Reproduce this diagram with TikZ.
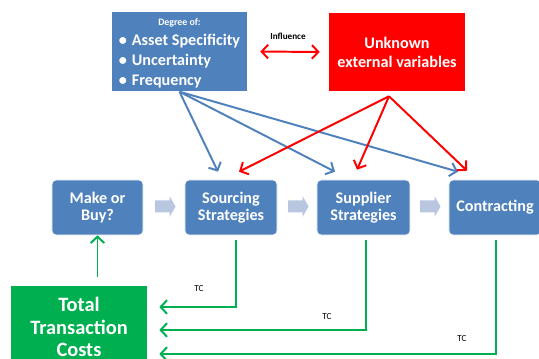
\documentclass[tikz,border=0pt]{standalone}
\usepackage{fontspec}
\setmainfont{Carlito}
\usepackage{tikz}
\usetikzlibrary{arrows.meta,positioning,calc}
\definecolor{officeBlue}{RGB}{79,129,189}
\definecolor{officeLight}{RGB}{184,198,223}
\definecolor{officeRed}{RGB}{255,0,0}
\definecolor{officeGreen}{RGB}{0,176,80}

\begin{document}
\begin{tikzpicture}[x=0.025cm, y=-0.025cm,
    stage/.style={draw=white, line width=0.4pt, fill=officeBlue, rounded corners=3pt,
      minimum width=2.3cm, minimum height=1.375cm, inner sep=2pt, text=white,
      align=center, font=\fontsize{11.5}{12.5}\selectfont\bfseries},
    blueline/.style={officeBlue, line width=1.4pt,
      -{Straight Barb[length=1.6mm,width=3.4mm]}},
    redline/.style={officeRed, line width=1.4pt,
      -{Straight Barb[length=1.6mm,width=3.4mm]}},
    tcline/.style={officeGreen, line width=1.4pt,
      -{Straight Barb[length=1.6mm,width=3.4mm]}},
    tclabel/.style={font=\fontsize{6.5}{7}\selectfont}]
  \useasboundingbox (0,0) rectangle (539,359);
  \clip (0,0) rectangle (539,359);

  % Drivers
  \node[fill=officeBlue, minimum width=3.375cm, minimum height=1.925cm,
        inner sep=0pt, text=white, font=\fontsize{11.5}{14.2}\selectfont\bfseries]
    (degree) at (179.5,51.5)
    {\begin{tabular}{@{}l@{\hspace{3.5pt}}l@{}}
       \multicolumn{2}{c}{\fontsize{7}{8}\selectfont Degree of:}\\
       \textbullet & Asset Specificity\\
       \textbullet & Uncertainty\\
       \textbullet & Frequency
     \end{tabular}};
  \node[fill=officeRed, minimum width=3.4cm, minimum height=1.95cm,
        text=white, align=center, font=\fontsize{11.5}{13.5}\selectfont\bfseries]
    (unknown) at (397,52) {Unknown\\external variables};
  \draw[officeRed, line width=1.4pt,
        {Straight Barb[length=1.6mm,width=3.4mm]}-{Straight Barb[length=1.6mm,width=3.4mm]},
        shorten <=0.325cm, shorten >=0.225cm] (degree.east) -- (unknown.west);
  \node[font=\fontsize{6.5}{7}\selectfont\bfseries] (influence) at (288,36) {Influence};

  % Process steps
  \node[stage, minimum width=2.275cm] (make) at (97.5,207.5) {Make or\\Buy?};
  \node[stage] (sourcing) at (231,207.5) {Sourcing\\Strategies};
  \node[stage, minimum width=2.325cm] (supplier) at (363.5,207.5) {Supplier\\Strategies};
  \node[stage] (contracting) at (495,207.5) {Contracting};
  % block arrows between the steps
  \foreach \x in {155,288,420}
    \fill[officeLight] (\x,200.5) -- ++(14.5,0) -- ++(0,-4.5) -- ++(6,10.5)
      -- ++(-6,10.5) -- ++(0,-4.5) -- ++(-14.5,0) -- cycle;

  % Influences on the steps
  \draw[blueline] (degree.south) -- ($(sourcing.north)+(-13,-8)$);
  \draw[blueline] (degree.south) -- ($(supplier.north)+(-28.5,-8)$);
  \draw[blueline] (degree.south) -- ($(contracting.north)+(-37,-8)$);
  \draw[redline] ($(unknown.south)+(-8,5)$) -- ($(sourcing.north)+(8,-8)$);
  \draw[redline] ($(unknown.south)+(-8,5)$) -- ($(supplier.north)+(-6.5,-10)$);
  \draw[redline] ($(unknown.south)+(-8,5)$) -- ($(contracting.north)+(-28,-9)$);

  % Transaction costs
  \node[fill=officeGreen, minimum width=3.4cm, minimum height=2.05cm, text=white,
        align=center, font=\fontsize{14.5}{16}\selectfont\bfseries]
    (total) at (79,327) {Total\\Transaction\\Costs};
  \draw[tcline] ($(total.north -| make.south)+(0,-9)$) -- (make.south);
  \draw[tcline] ($(sourcing.south)+(5,5)$) |- ($(total.east)+(12,-20)$);
  \draw[tcline] ($(supplier.south)+(2.5,5)$) |- ($(total.east)+(12,3)$);
  \draw[tcline] ($(contracting.south)+(1,5)$) |- ($(total.east)+(12,27)$);
  \node[tclabel] (tca) at (199,289) {TC};
  \node[tclabel] (tcb) at (327,317) {TC};
  \node[tclabel] (tcc) at (462,339) {TC};
\end{tikzpicture}
\end{document}
